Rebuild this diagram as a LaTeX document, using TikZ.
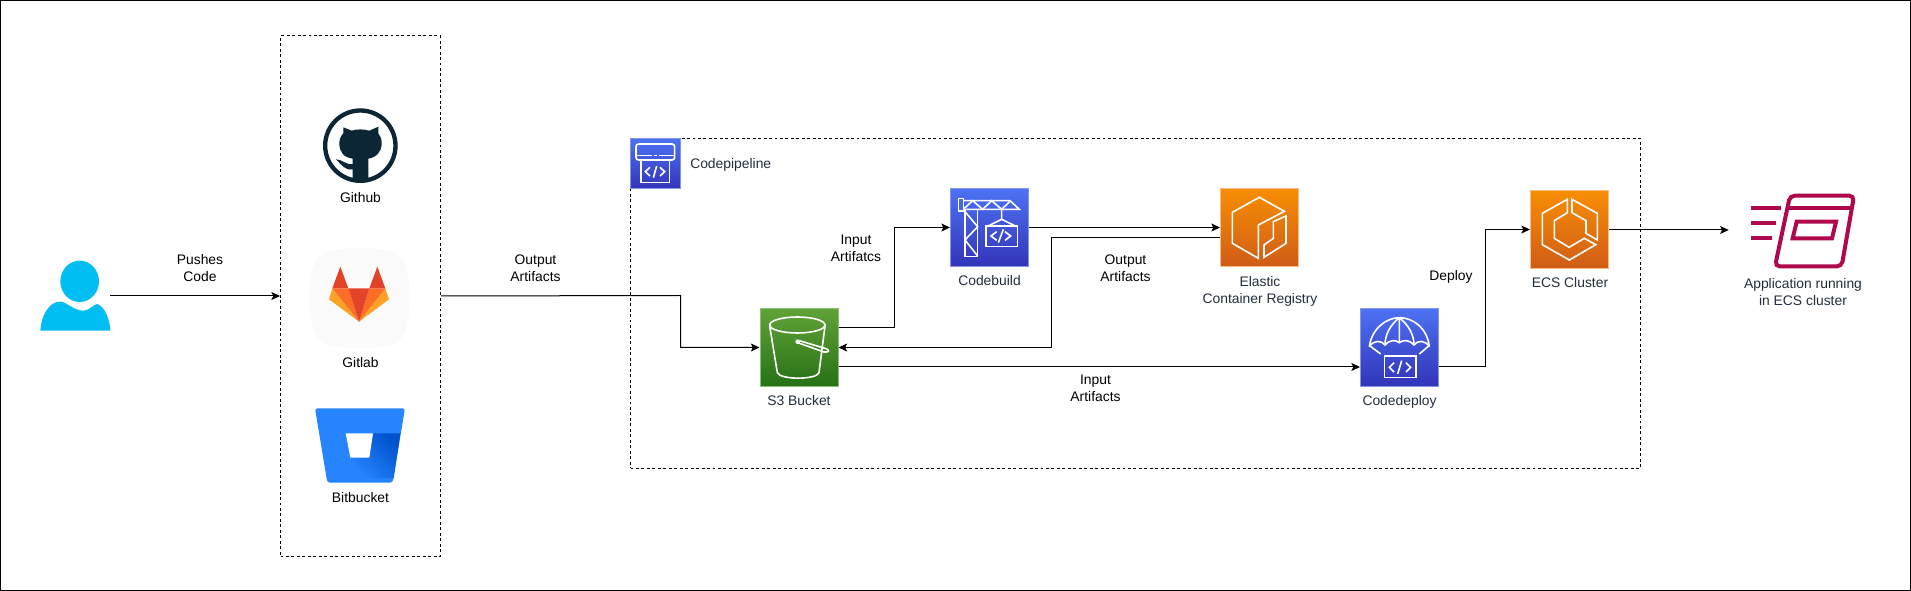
\documentclass[tikz,border=0pt]{standalone}
\usepackage{fontspec}
\setmainfont{Liberation Sans}
\usetikzlibrary{arrows.meta}
\definecolor{awstext}{HTML}{232F3E}
\definecolor{iconpink}{HTML}{B0084D}
\definecolor{ghdark}{HTML}{0D2636}
\tikzset{
  zpx/.style={x=.25pt,y=-.25pt},
  lbl/.style={font=\fontsize{10.4}{12.75}\selectfont,align=center,inner sep=0pt,text=black},
  awslbl/.style={lbl,text=awstext},
  conn/.style={draw=black,line width=.75pt,-{Stealth[length=6.5pt,width=6pt,inset=1.5pt]}},
  dashbox/.style={draw=black,line width=.75pt,dash pattern=on 2.2pt off 1.9pt,inner sep=0pt},
  awsbase/.style={inner sep=0pt,minimum width=58.5pt,minimum height=58.5pt,line width=.75pt},
  awsblue/.style={awsbase,draw={rgb,255:red,130;green,150;blue,235},top color={rgb,255:red,77;green,114;blue,243},bottom color={rgb,255:red,51;green,52;blue,185}},
  awsorange/.style={awsbase,draw={rgb,255:red,250;green,190;blue,130},top color={rgb,255:red,247;green,142;blue,4},bottom color={rgb,255:red,208;green,92;blue,23}},
  awsgreen/.style={awsbase,draw={rgb,255:red,140;green,190;blue,120},top color={rgb,255:red,96;green,163;blue,55},bottom color={rgb,255:red,39;green,113;blue,22}},
  ic/.style={draw=white,line width=1.2pt,line join=miter},
}
\begin{document}
\begin{tikzpicture}[x=.75pt,y=-.75pt]
\useasboundingbox (0,0) rectangle (1911,591);
\fill[white] (0,0) rectangle (1911,591);
\draw[black,line width=.75pt] (.5,.5) rectangle (1910.5,590.5);

% containers
\node[dashbox,minimum width=120pt,minimum height=390pt] (sources) at (360.5,296) {};
\node[dashbox,minimum width=757.5pt,minimum height=247.5pt] (pipeline) at (1135.5,303.5) {};

% person
\node[inner sep=0pt,minimum width=52.5pt,minimum height=10pt] (person) at (75,296) {};
\begin{scope}[shift={(0,80)},zpx]
  \fill[fill={rgb,255:red,0;green,190;blue,242}] (239,604) ellipse [x radius=58,y radius=62];
  \fill[fill={rgb,255:red,0;green,190;blue,242}] (121,752) .. controls (125,700) and (150,665) .. (180,665) .. controls (200,665) and (220,692) .. (250,692) .. controls (270,692) and (280,672) .. (292,672) .. controls (315,680) and (330,720) .. (331,752) -- cycle;
\end{scope}

% github
\begin{scope}[shift={(0,80)},zpx]
  \draw[ghdark,line width=3.25pt] (1081,197) circle [radius=105.5];
  \fill[ghdark] (1058,305) -- (1058,268) .. controls (1035,272) and (1025,255) .. (1008,238) .. controls (1028,238) and (1035,255) .. (1058,252) -- (1058,236) .. controls (1030,232) and (1018,215) .. (1018,190) .. controls (1018,178) and (1022,168) .. (1030,160) -- (1030,142) -- (1055,152) .. controls (1070,147) and (1092,147) .. (1108,152) -- (1135,140) -- (1135,160) .. controls (1142,168) and (1145,178) .. (1145,190) .. controls (1145,215) and (1130,232) .. (1105,236) -- (1105,305) -- cycle;
\end{scope}
\node[lbl] (githublbl) at (360.5,198) {Github};

% gitlab
\begin{scope}[shift={(0,80)},zpx]
  \fill[fill={rgb,255:red,250;green,250;blue,250}] (1079,505) .. controls (1190,505) and (1228,510) .. (1228,654) .. controls (1228,798) and (1190,803) .. (1079,803) .. controls (968,803) and (930,798) .. (930,654) .. controls (930,510) and (968,505) .. (1079,505) -- cycle;
  \definecolor{glr}{HTML}{E24329}\definecolor{glo}{HTML}{FC6D26}\definecolor{gly}{HTML}{FCA326}
  \fill[gly] (997,625) -- (987,658) -- (1077,725) -- cycle;
  \fill[gly] (1156,625) -- (1167,658) -- (1077,725) -- cycle;
  \fill[glo] (997,625) -- (1045,625) -- (1077,725) -- cycle;
  \fill[glo] (1108,625) -- (1156,625) -- (1077,725) -- cycle;
  \fill[glr] (1045,625) -- (1108,625) -- (1077,725) -- cycle;
  \fill[glr] (1021,560) -- (997,625) -- (1045,625) -- cycle;
  \fill[glr] (1132,560) -- (1108,625) -- (1156,625) -- cycle;
\end{scope}
\node[lbl] (gitlablbl) at (360.5,363) {Gitlab};

% bitbucket
\begin{scope}[shift={(270,350)},zpx]
  \fill[fill={rgb,255:red,38;green,132;blue,255},rounded corners=2pt] (135,175) -- (405,175) -- (368,398) -- (172,398) -- cycle;
  \shade[shading=axis,top color={rgb,255:red,0;green,82;blue,204},bottom color={rgb,255:red,38;green,132;blue,255},shading angle=-45] (309,250) -- (391,250) -- (371,385) -- (300,385) -- (241,323) -- (298,323) -- cycle;
  \fill[white] (227,250) -- (309,250) -- (298,323) -- (241,323) -- cycle;
\end{scope}
\node[lbl] (bitbucketlbl) at (360.5,498) {Bitbucket};

% codepipeline icon
\node[awsblue,minimum width=37.5pt,minimum height=37.5pt] (pipeicon) at (655.5,163.5) {};
\begin{scope}[shift={(620,130)},zpx]
  \draw[ic,rounded corners=2pt] (48,90) -- (48,42) -- (164,42) -- (164,90) -- cycle;
  \draw[white,line width=.8pt] (48,77) -- (95,77) (102,77) -- (112,77) (118,77) -- (164,77);
  \draw[ic] (63,90) -- (63,158) -- (148,158) -- (148,90);
  \draw[ic] (90,112) -- (76,125) -- (90,138) (120,112) -- (134,125) -- (120,138) (110,108) -- (100,143);
\end{scope}
\node[awslbl,anchor=west] (pipelbl) at (690,164.5) {Codepipeline};

% S3
\node[awsgreen] (s3) at (799,347.5) {};
\begin{scope}[shift={(620,130)},zpx]
  \draw[ic] (532,585) ellipse [x radius=83,y radius=24];
  \draw[ic] (449,588) -- (472,728) .. controls (480,750) and (590,750) .. (597,728) -- (615,588);
  \fill[white] (533,635) circle [radius=7];
  \draw[ic] (538,632) -- (618,656) .. controls (630,660) and (628,668) .. (612,666) -- (533,638);
\end{scope}
\node[awslbl] (s3lbl) at (799,400.5) {S3 Bucket};

% codebuild
\node[awsblue] (codebuild) at (989.5,227.5) {};
\begin{scope}[shift={(620,130)},zpx]
  \draw[ic] (1030,212) -- (1170,212) -- (1198,238) -- (1030,238);
  \draw[ic] (1016,205) rectangle (1030,243);
  \draw[ic] (1030,238) -- (1058,212) -- (1088,238) -- (1115,212) -- (1145,238) -- (1172,212);
  \draw[ic] (1035,240) -- (1035,380) -- (1073,380) -- (1073,238);
  \draw[ic] (1035,245) -- (1073,290) -- (1035,330) -- (1073,378);
  \draw[ic] (1145,238) -- (1145,268) (1100,290) -- (1145,268) -- (1190,290);
  \draw[ic] (1098,288) rectangle (1192,350);
  \draw[ic] (1130,305) -- (1113,318) -- (1130,331) (1155,305) -- (1172,318) -- (1155,331) (1150,298) -- (1135,338);
\end{scope}
\node[awslbl] (codebuildlbl) at (989.5,281) {Codebuild};

% ECR
\node[awsorange] (ecr) at (1259.5,227.5) {};
\begin{scope}[shift={(1190,170)},zpx]
  \draw[ic] (205,265) -- (127,220) -- (127,127) -- (208,82) -- (283,124) -- (205,165) -- cycle;
  \draw[ic] (222,262) -- (222,225) -- (250,205) -- (250,155) -- (288,138) -- (288,220) -- cycle;
\end{scope}
\node[awslbl] (ecrlbl) at (1260,291) {Elastic\\Container Registry};

% codedeploy
\node[awsblue] (codedeploy) at (1399.5,347.5) {};
\begin{scope}[shift={(1190,170)},zpx]
  \draw[ic] (538,530) .. controls (545,475) and (590,443) .. (628,443) .. controls (670,443) and (712,475) .. (718,530);
  \draw[ic] (538,530) .. controls (550,510) and (575,510) .. (585,525) .. controls (597,510) and (617,508) .. (628,518) .. controls (640,508) and (660,510) .. (672,525) .. controls (682,510) and (706,510) .. (718,530);
  \draw[ic] (628,443) -- (628,518) (628,443) .. controls (600,465) and (585,495) .. (585,525) (628,443) .. controls (656,465) and (672,495) .. (672,525);
  \draw[ic] (540,528) -- (572,552) (716,528) -- (688,552);
  \draw[ic] (583,558) rectangle (678,623);
  \draw[ic] (612,578) -- (598,592) -- (612,606) (648,578) -- (662,592) -- (648,606) (635,572) -- (623,612);
\end{scope}
\node[awslbl] (codedeploylbl) at (1399.5,401.5) {Codedeploy};

% ECS
\node[awsorange] (ecs) at (1569.5,229.5) {};
\begin{scope}[shift={(1490,170)},zpx]
  \draw[ic] (232,88) -- (232,128) -- (193,152) -- (193,205) -- (237,232) -- (283,205) -- (317,224) -- (238,270) -- (157,224) -- (157,130) -- cycle;
  \draw[ic] (246,88) -- (322,130) -- (322,210) -- (288,190) -- (288,152) -- (246,128) -- cycle;
\end{scope}
\node[awslbl] (ecslbl) at (1570,283) {ECS Cluster};

% application
\node[inner sep=0pt,minimum width=111pt,minimum height=10pt] (app) at (1803,230) {};
\begin{scope}[shift={(1490,170)},zpx]
  \draw[iconpink,line width=3.2pt] (782,115) -- (872,115) (782,160) -- (858,160) (782,205) -- (845,205);
  \draw[iconpink,line width=3pt,rounded corners=3.5pt] (900,77) -- (1092,77) -- (1055,289) -- (855,289) -- cycle;
  \draw[iconpink,line width=3pt] (895,115) -- (1087,115);
  \draw[iconpink,line width=3pt] (920,155) -- (1038,155) -- (1026,205) -- (908,205) -- cycle;
\end{scope}
\node[awslbl] (applbl) at (1803,292) {Application running\\in ECS cluster};

% connector bend points
\coordinate (bout) at (680.5,295.5);
\coordinate (bbuild) at (894.5,328);
\coordinate (becr) at (1051.5,237.5);
\coordinate (bdep) at (1485.5,367);

% connectors
\draw[conn] (person.east) -- (person.east -| sources.west);
\draw[conn] (sources.east |- person.east) -- (bout) |- (s3.west);
\draw[conn] (s3.east |- bbuild) -- (bbuild) |- (codebuild.west);
\draw[conn] (codebuild.east) -- (ecr.west);
\draw[conn] (ecr.west |- becr) -- (becr) |- (s3.east);
\draw[conn] (s3.east |- bdep) -- (codedeploy.west |- bdep);
\draw[conn] (codedeploy.east |- bdep) -- (bdep) |- (ecs.west);
\draw[conn] (ecs.east |- app.west) -- (app.west);

% connector labels
\node[lbl] (lpush) at (200,268.5) {Pushes\\Code};
\node[lbl] (lout) at (535.5,268.5) {Output\\Artifacts};
\node[lbl] (linbuild) at (856,248.5) {Input\\Artifatcs};
\node[lbl] (loutecr) at (1125.5,268.5) {Output\\Artifacts};
\node[lbl] (lindep) at (1095.5,388.5) {Input\\Artifacts};
\node[lbl] (ldeploy) at (1451,277) {Deploy};
\end{tikzpicture}
\end{document}
